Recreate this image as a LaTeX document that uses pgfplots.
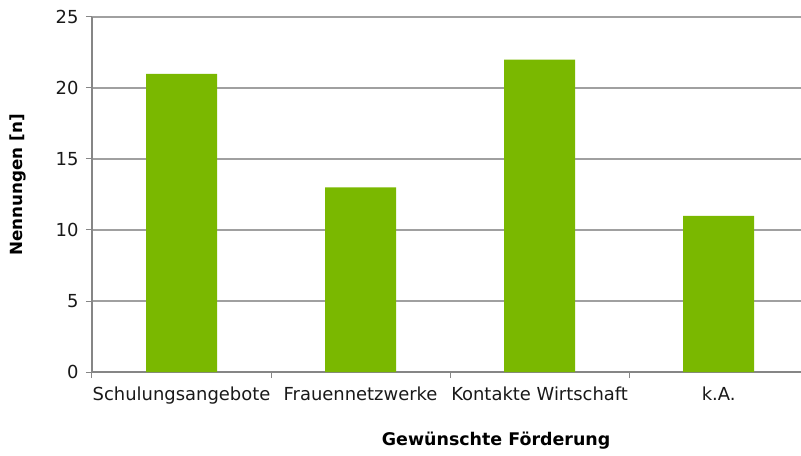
\documentclass[border=0pt]{standalone}
\usepackage{fontspec}
\setmainfont{DejaVu Sans}
\usepackage{pgfplots}
\pgfplotsset{compat=1.18}

\definecolor{barGreen}{RGB}{122,184,0}
\definecolor{gridGray}{RGB}{160,160,160}
\definecolor{axisGray}{RGB}{134,134,134}

\begin{document}
\begin{tikzpicture}
\begin{axis}[
  name=ax,
  width=709bp, height=355bp,
  scale only axis,
  ymin=0, ymax=25,
  xmin=-0.5, xmax=3.46,
  ytick={0,5,...,25},
  xtick={0,1,2,3},
  xticklabels={Schulungsangebote, Frauennetzwerke, Kontakte Wirtschaft, k.A.},
  minor xtick={-0.5,0.5,1.5,2.5},
  major x tick style={draw=none},
  minor x tick style={axisGray, line width=1bp},
  y tick style={axisGray, line width=1bp},
  tick align=outside,
  major tick length=6bp,
  minor tick length=6bp,
  axis x line*=bottom,
  axis y line*=left,
  axis line style={axisGray, line width=1.3bp, -},
  ymajorgrids,
  grid style={gridGray, line width=1.3bp},
  tick label style={font=\fontsize{18}{21}\selectfont, text=black!90},
  yticklabel style={xshift=-4bp},
  xticklabel style={yshift=-5bp},
  /pgf/number format/assume math mode=true,
  ylabel={\bfseries Nennungen [n]},
  ylabel style={font=\fontsize{16.8}{19}\selectfont, at={(axis description cs:-0.104,0.527)}, anchor=center},
  xlabel={\bfseries Gewünschte Förderung},
  xlabel style={font=\fontsize{17.5}{20}\selectfont, at={(axis description cs:0.57,-0.194)}, anchor=center},
  clip=false,
]
  \addplot[ybar, bar width=71bp, fill=barGreen, draw=none] coordinates {
    (0,21) (1,13) (2,22) (3,11)
  };
\end{axis}
\pgfresetboundingbox
\path[use as bounding box] (ax.south west) ++(-92bp,-84bp) rectangle ++(801bp,456bp);
\end{tikzpicture}
\end{document}
